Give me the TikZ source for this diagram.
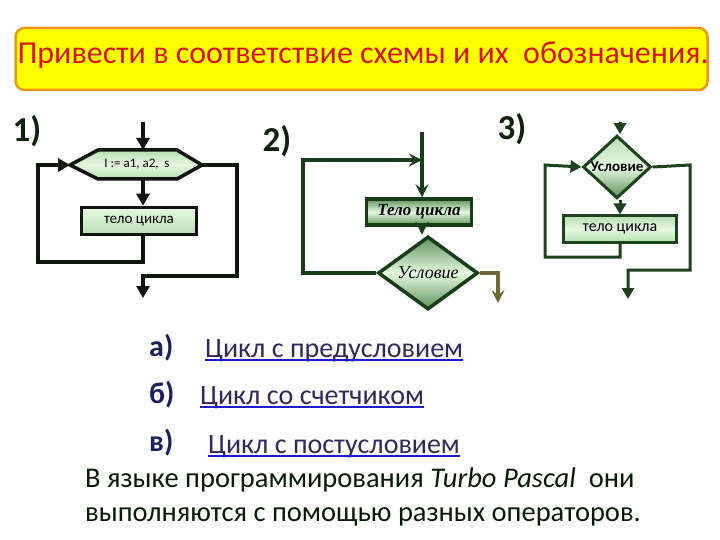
\documentclass[tikz,border=0pt]{standalone}
\usepackage{fontspec}
\setmainfont{Carlito}
\newfontfamily\serifcyr{Liberation Serif}
\usetikzlibrary{arrows.meta,shapes.geometric}
\definecolor{titlered}{RGB}{215,20,10}
\definecolor{titlefill}{RGB}{255,255,0}
\definecolor{titleedge}{RGB}{235,150,20}
\definecolor{lineA}{RGB}{15,20,15}
\definecolor{lineB}{RGB}{25,60,25}
\definecolor{lineC}{RGB}{30,65,30}
\definecolor{exitB}{RGB}{110,105,50}
\definecolor{gLight}{RGB}{230,248,225}
\definecolor{gMid}{RGB}{185,222,180}
\definecolor{gDark}{RGB}{95,145,90}
\definecolor{labcol}{RGB}{16,32,16}
\definecolor{optlab}{RGB}{30,30,90}
\definecolor{opttext}{RGB}{50,40,90}
\definecolor{ulblue}{RGB}{30,30,200}
\definecolor{bodytext}{RGB}{10,25,10}
\tikzset{
  lineone/.style={draw=lineA, line width=3.5pt},
  linetwo/.style={draw=lineB, line width=3.5pt},
  linethree/.style={draw=lineC, line width=3pt},
  arrA/.style={-{Triangle[length=12pt,width=13pt]}},
  arrB/.style={-{Stealth[length=13pt,width=13pt,inset=5pt]}},
  arrC/.style={-{Triangle[length=11pt,width=12pt]}},
  boxone/.style={draw=lineA, line width=3.5pt, top color=gLight, bottom color=gMid, minimum width=115pt, minimum height=27pt, inner sep=0pt, font=\fontsize{15}{17}\selectfont},
  boxtwo/.style={draw=lineB, line width=3.5pt, top color=gDark, bottom color=gDark, middle color=gLight, minimum width=105pt, minimum height=26pt, inner sep=0pt, font=\serifcyr\itshape\bfseries\fontsize{17}{19}\selectfont},
  diamtwo/.style={diamond, draw=lineB, line width=3.5pt, top color=gDark, bottom color=gDark, middle color=gLight, minimum width=100pt, minimum height=50pt, inner sep=0pt, font=\serifcyr\itshape\fontsize{18}{20}\selectfont},
  diamthree/.style={diamond, draw=lineC, line width=3pt, top color=gMid, bottom color=gDark, middle color=gLight, minimum width=68pt, minimum height=39pt, inner sep=0pt, font=\bfseries\fontsize{15}{17}\selectfont},
  boxthree/.style={draw=lineC, line width=3pt, top color=gMid, bottom color=gMid, middle color=gLight, minimum width=113pt, minimum height=26pt, inner sep=0pt, font=\fontsize{16}{18}\selectfont},
  numlab/.style={font=\bfseries\fontsize{35}{37}\selectfont, text=labcol},
  optl/.style={anchor=base west, font=\bfseries\fontsize{30}{32}\selectfont, text=optlab, inner sep=0pt},
  optt/.style={anchor=base west, font=\fontsize{28}{30}\selectfont, text=opttext, inner sep=0pt},
  uline/.style={draw=ulblue, line width=1.6pt},
  bodyt/.style={anchor=base west, font=\fontsize{28.5}{30}\selectfont, text=bodytext, inner sep=0pt}
}
\begin{document}
\begin{tikzpicture}[x=1pt,y=-1pt]
\useasboundingbox (0,0) rectangle (720,540);
\fill[white] (0,0) rectangle (720,540);
% title
\node[draw=titleedge, line width=2.5pt, fill=titlefill, rounded corners=9pt, minimum width=692pt, minimum height=62pt] (tbox) at (361.5,59) {};
\node[text=titlered, font=\fontsize{32}{34}\selectfont, inner sep=0pt] (ttext) at (363,55) {Привести в соответствие схемы и их\ \ обозначения.};
% labels
\node[numlab] (l1) at (27,131) {1)};
\node[numlab] (l2) at (277,141) {2)};
\node[numlab] (l3) at (512,129) {3)};
% ---------- diagram 1 ----------
\coordinate (h1l) at (70,165);
\coordinate (h1r) at (202,165);
\coordinate (h1t) at (143,150);
\coordinate (h1b) at (143,179);
\draw[line width=3.5pt, draw=lineA, top color=gMid, bottom color=gMid, middle color=gLight, line join=miter] (70,165) -- (98,150) -- (177,150) -- (202,165) -- (177,179) -- (98,179) -- cycle;
\node[font=\fontsize{13}{15}\selectfont, inner sep=0pt] (h1txt) at (137,164.5) {I := a1, a2,\ \ s};
\coordinate (a1top) at (143,122);
\node[boxone] (b1) at (139,221) {тело цикла};
\coordinate (a1c1) at (143,262);
\coordinate (a1c2) at (38,262);
\coordinate (a1c3) at (38,165);
\coordinate (a1d1) at (237,165);
\coordinate (a1d2) at (237,276);
\coordinate (a1d3) at (143,276);
\coordinate (a1end) at (143,298);
\draw[lineone, arrA] (a1top) -- (h1t);
\draw[lineone, arrA] (h1b) -- (b1.north -| h1b);
\draw[lineone, arrA, line join=miter] (b1.south -| a1c1) -- (a1c1) -- (a1c2) -- (a1c3) -- (h1l);
\draw[lineone, arrA, line join=miter] (h1r) -- (a1d1) -- (a1d2) -- (a1d3) -- (a1end);
% ---------- diagram 2 ----------
\coordinate (a2top) at (422,132);
\node[boxtwo] (b2) at (419,212) {Тело цикла};
\node[diamtwo] (d2) at (428,273) {Условие};
\coordinate (a2c1) at (303,273);
\coordinate (a2c2) at (303,160);
\coordinate (a2c3) at (422,160);
\coordinate (a2e1) at (498,273);
\coordinate (a2e2) at (498,303);
\draw[linetwo, arrB] (a2top) -- (b2.north -| a2top);
\draw[linetwo, arrB] (b2.south -| a2top) -- (d2.north -| a2top);
\draw[linetwo, arrB, line join=miter] (d2.west) -- (a2c1) -- (a2c2) -- (a2c3);
\draw[draw=exitB, line width=3.5pt, arrB, line join=miter] (d2.east) -- (a2e1) -- (a2e2);
% ---------- diagram 3 ----------
\coordinate (a3top) at (620,122);
\node[diamthree] (d3) at (617,167) {Условие};
\node[boxthree] (b3) at (620,229) {тело цикла};
\coordinate (a3c1) at (620,257);
\coordinate (a3c2) at (545,257);
\coordinate (a3c3) at (545,165);
\coordinate (a3d1) at (690,165);
\coordinate (a3d2) at (690,270);
\coordinate (a3d3) at (628,270);
\coordinate (a3end) at (628,299);
\draw[linethree, arrC] (a3top) -- (d3.north -| a3top);
\draw[linethree, arrC] (d3.south -| a3top) -- (b3.north -| a3top);
\draw[linethree, arrC, line join=miter] (b3.south -| a3c1) -- (a3c1) -- (a3c2) -- (a3c3) -- (d3.west);
\draw[linethree, arrC, line join=miter] (d3.east) -- (a3d1) -- (a3d2) -- (a3d3) -- (a3end);
% ---------- options ----------
\node[optl] (oa) at (149,356) {а)};
\node[optt] (ta) at (205,357) {Цикл с предусловием};
\draw[uline] ([yshift=-3pt]ta.base west) -- ([yshift=-3pt]ta.base east);
\node[optl] (ob) at (149,403) {б)};
\node[optt] (tb) at (200,404) {Цикл со счетчиком};
\draw[uline] ([yshift=-3pt]tb.base west) -- ([yshift=-3pt]tb.base east);
\node[optl] (oc) at (149,451) {в)};
\node[optt] (tc) at (208,453) {Цикл с постусловием};
\draw[uline] ([yshift=-3pt]tc.base west) -- ([yshift=-3pt]tc.base east);
% ---------- body text ----------
\node[bodyt] (p1) at (85,487) {В языке программирования \textit{Turbo Pascal}\ \ они};
\node[bodyt] (p2) at (85,521) {выполняются с помощью разных операторов.};
\end{tikzpicture}
\end{document}
